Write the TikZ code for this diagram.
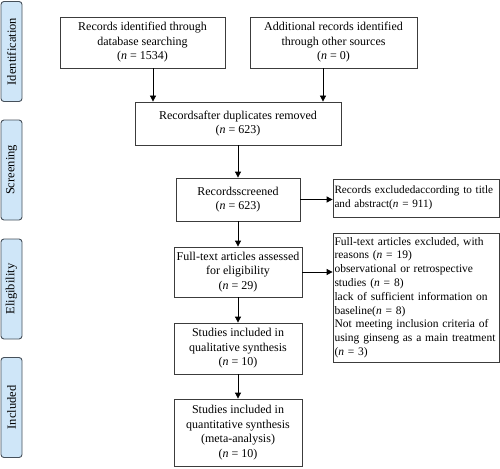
\documentclass[tikz,border=0pt]{standalone}
\usepackage{fontspec}
\setmainfont{Liberation Serif}
\usetikzlibrary{arrows.meta}
\definecolor{sidefill}{HTML}{CFE6F8}
\definecolor{sidedraw}{HTML}{46505A}
\definecolor{boxdraw}{HTML}{3C3C3C}
\begin{document}
\begin{tikzpicture}[x=1pt,y=-1pt,
  font=\fontsize{12}{14.5}\selectfont,
  box/.style={draw=boxdraw,line width=0.8pt,align=center,inner sep=1pt,minimum width=#1},
  leftbox/.style={draw=boxdraw,line width=0.8pt,align=left,inner xsep=1.5pt,inner ysep=1pt,text width=163pt,minimum width=166pt,font=\fontsize{11.5}{13.8}\selectfont},
  side/.style={draw=sidedraw,fill=sidefill,line width=0.9pt,rounded corners=3pt,minimum width=100pt,minimum height=21pt,rotate=90,inner sep=1pt,font=\fontsize{12.5}{13}\selectfont},
  arr/.style={-{Triangle[length=6pt,width=6pt]},line width=0.8pt,black}]
\useasboundingbox (0,0) rectangle (500,468);
% side labels
\node[side] (s1) at (11.5,51.5) {Identification};
\node[side] (s2) at (11.5,170) {Screening};
\node[side] (s3) at (11.5,289) {Eligibility};
\node[side] (s4) at (11.5,407.5) {Included};
% boxes
\node[box=165pt,minimum height=51pt] (b1) at (142.5,42.5) {Records identified through\\database searching\\(\textit{n} = 1534)};
\node[box=167pt,minimum height=51pt] (b2) at (333.5,42.5) {Additional records identified\\through other sources\\(\textit{n} = 0)};
\node[box=206pt,minimum height=43pt] (b3) at (238,123.5) {Recordsafter duplicates removed\\(\textit{n} = 623)};
\node[box=124pt,minimum height=43pt] (b4) at (238,199.5) {Recordsscreened\\(\textit{n} = 623)};
\node[leftbox,minimum height=38pt,font=\fontsize{11.2}{13.8}\selectfont] (b5) at (416,198) {Records excludedaccording to title\\and abstract(\textit{n} = 911)};
\node[box=128pt,minimum height=50pt] (b6) at (238,272) {Full-text articles assessed\\for eligibility\\(\textit{n} = 29)};
\node[leftbox,minimum height=129pt] (b7) at (416,297.5) {Full-text articles excluded, with\\reasons (\textit{n} = 19)\\observational or retrospective\\studies (\textit{n} = 8)\\lack of sufficient information on\\baseline(\textit{n} = 8)\\Not meeting inclusion criteria of\\using ginseng as a main treatment\\(\textit{n} = 3)};
\node[box=128pt,minimum height=51pt] (b8) at (238,348.5) {Studies included in\\qualitative synthesis\\(\textit{n} = 10)};
\node[box=128pt,minimum height=67pt] (b9) at (238,432.5) {Studies included in\\quantitative synthesis\\(meta-analysis)\\(\textit{n} = 10)};
% arrows
\coordinate (c1) at (153,0);
\coordinate (c2) at (323,0);
\draw[arr] (b1.south -| c1) -- (b3.north -| c1);
\draw[arr] (b2.south -| c2) -- (b3.north -| c2);
\draw[arr] (b3) -- (b4);
\draw[arr] (b4.east) -- (b4.east -| b5.west);
\draw[arr] (b4) -- (b6);
\draw[arr] (b6.east) -- (b6.east -| b7.west);
\draw[arr] (b6) -- (b8);
\draw[arr] (b8) -- (b9);
\end{tikzpicture}
\end{document}
